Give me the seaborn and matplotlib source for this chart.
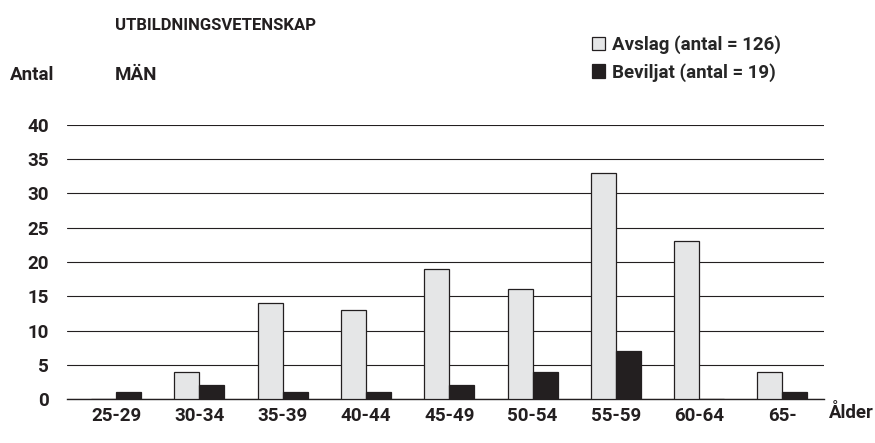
import numpy as np
import pandas as pd
import matplotlib
matplotlib.use("Agg")
import matplotlib.pyplot as plt
from matplotlib.patches import Patch
import seaborn as sns

# ── data ──────────────────────────────────────────────────────────────────────
age_groups = ["25-29", "30-34", "35-39", "40-44", "45-49",
              "50-54", "55-59", "60-64", "65-"]
avslag   = [0, 4, 14, 13, 19, 16, 33, 23, 4]
beviljat = [1, 2, 1, 1, 2, 4, 7, 0, 1]
series   = ["Avslag", "Beviljat"]
legend_labels = ["Avslag (antal = 126)", "Beviljat (antal = 19)"]
y_ticks  = [0, 5, 10, 15, 20, 25, 30, 35, 40]

df = pd.DataFrame({
    "age":    age_groups * 2,
    "count":  avslag + beviljat,
    "status": [series[0]] * len(age_groups) + [series[1]] * len(age_groups),
})

# ── style ─────────────────────────────────────────────────────────────────────
sns.set_style("white")
plt.rcParams["font.family"] = ["Roboto", "DejaVu Sans"]
plt.rcParams["font.weight"] = "bold"

GRAY  = "#e5e6e7"
BLACK = "#231f20"
INK   = "#231f20"
FS    = 13.5

W, H = 875, 443
fig = plt.figure(figsize=(W / 100, H / 100), dpi=100)
ax = fig.add_axes([67 / W, (H - 399) / H, (824 - 67) / W, (399 - 125) / H])

sns.barplot(data=df, x="age", y="count", hue="status", order=age_groups,
            hue_order=series, palette=[GRAY, BLACK], width=0.6, gap=0,
            edgecolor=INK, linewidth=0.9, saturation=1, legend=False,
            zorder=3, ax=ax)

ax.set_ylim(0, 40)
ax.set_xlim(-0.59, 8.5)
ax.set_yticks(y_ticks)
ax.yaxis.grid(True, color=INK, linewidth=0.8, zorder=0)
ax.set_axisbelow(True)
for s in ["top", "right", "left"]:
    ax.spines[s].set_visible(False)
ax.spines["bottom"].set_color(INK)
ax.spines["bottom"].set_linewidth(1.0)

# category labels at centres, tick marks at category boundaries
ax.set_xticks(np.arange(len(age_groups)))
ax.set_xticklabels(age_groups, fontsize=FS, color=INK)
ax.tick_params(axis="x", length=0, pad=6)
ax.set_xticks(np.arange(len(age_groups) - 1) + 0.5, minor=True)
ax.tick_params(axis="x", which="minor", length=7, width=1.0, color=INK)
ax.tick_params(axis="y", length=0, pad=13, labelsize=FS, labelcolor=INK)
ax.set_xlabel("")
ax.set_ylabel("")

# texts
fig.text(115 / W, 1 - 25 / H, "UTBILDNINGSVETENSKAP", fontsize=12,
         color=INK, va="center", ha="left")
fig.text(10 / W, 1 - 75 / H, "Antal", fontsize=FS, color=INK,
         va="center", ha="left")
fig.text(115 / W, 1 - 75 / H, "MÄN", fontsize=FS, color=INK,
         va="center", ha="left")
fig.text(829 / W, 1 - 413 / H, "Ålder", fontsize=FS, color=INK,
         va="center", ha="left")

handles = [Patch(facecolor=GRAY, edgecolor=INK, linewidth=0.9),
           Patch(facecolor=BLACK, edgecolor=INK, linewidth=0.9)]
fig.legend(handles, legend_labels, loc="upper left",
           bbox_to_anchor=(584 / W, 1 - 28 / H), frameon=False,
           fontsize=FS, handlelength=0.72, handleheight=0.72,
           handletextpad=0.4, labelspacing=0.45, borderaxespad=0)

fig.savefig("out.png", dpi=100)
